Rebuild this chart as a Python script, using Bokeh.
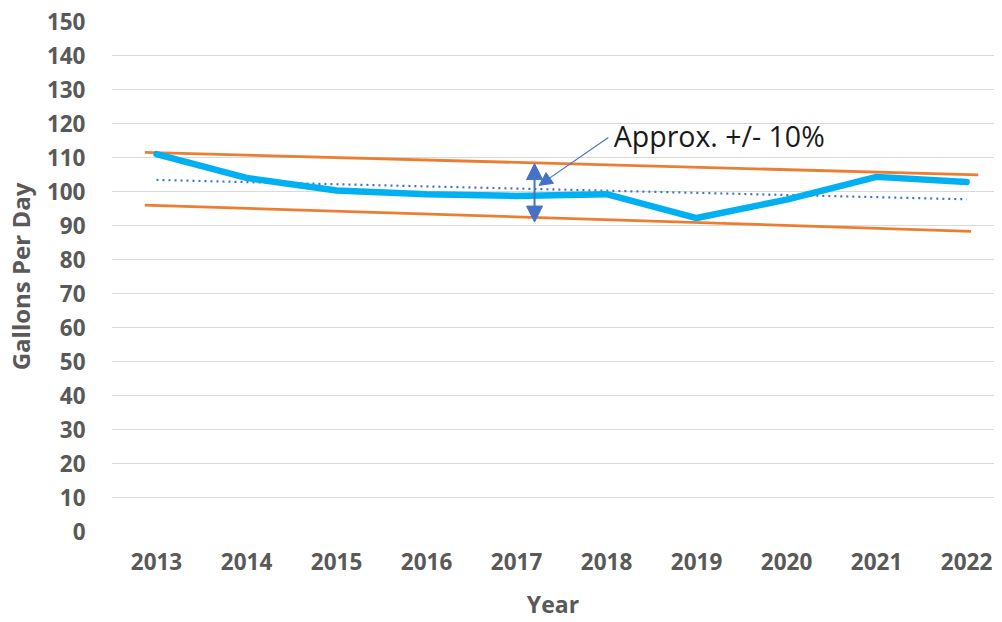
from bokeh.plotting import figure
from bokeh.models import Range1d, FixedTicker, Arrow, NormalHead, Label
from bokeh.embed import file_html
from bokeh.resources import INLINE

years = [2013, 2014, 2015, 2016, 2017, 2018, 2019, 2020, 2021, 2022]
gallons_per_day = [111.0, 104.0, 100.3, 99.2, 98.7, 99.2, 92.2, 97.6, 104.3, 102.8]

band_x = [2012.87, 2022.13]
upper_band = [111.5, 104.9]
lower_band_x = [2012.87, 2022.05]
lower_band = [96.0, 88.3]
trend_x = [2013.0, 2022.0]
trend = [103.4, 97.7]

y_ticks = list(range(0, 151, 10))
arrow_x = 2017.2
arrow_top = 108.2
arrow_bottom = 91.0
label_text = "Approx. +/- 10%"
x_title = "Year"
y_title = "Gallons Per Day"

FONT = "Open Sans"
GREY = "#595959"

p = figure(width=994, height=622, output_backend="svg", toolbar_location=None,
           x_range=Range1d(2012.5, 2022.31), y_range=Range1d(0, 150),
           min_border_left=110, min_border_right=0, min_border_top=21, min_border_bottom=90)
p.outline_line_color = None
p.background_fill_color = "white"
p.border_fill_color = "white"

p.xgrid.grid_line_color = None
p.ygrid.grid_line_color = "#d9d9d9"
p.ygrid.grid_line_width = 1
p.yaxis.ticker = FixedTicker(ticks=y_ticks)
p.xaxis.ticker = FixedTicker(ticks=years)

for ax in (p.xaxis[0], p.yaxis[0]):
    ax.axis_line_color = None
    ax.major_tick_line_color = None
    ax.minor_tick_line_color = None
    ax.major_label_text_font = FONT
    ax.major_label_text_font_style = "bold"
    ax.major_label_text_font_size = "22.5px"
    ax.major_label_text_color = GREY
    ax.axis_label_text_font = FONT
    ax.axis_label_text_font_style = "bold"
    ax.axis_label_text_color = GREY

p.xaxis.axis_label = x_title
p.yaxis.axis_label = y_title
p.xaxis.axis_label_text_font_size = "23px"
p.yaxis.axis_label_text_font_size = "24px"
p.yaxis.major_label_standoff = 20
p.xaxis.major_label_standoff = 15
p.xaxis.axis_label_standoff = 15
p.yaxis.axis_label_standoff = 7

p.line(band_x, upper_band, line_color="#ED7D31", line_width=2.8)
p.line(lower_band_x, lower_band, line_color="#ED7D31", line_width=2.8)
p.line(trend_x, trend, line_color="#4472C4", line_width=2.2, line_dash="2 4")
p.line(years, gallons_per_day, line_color="#00B0F0", line_width=6.5, line_join="round", line_cap="round")

p.add_layout(Arrow(start=NormalHead(size=16, fill_color="#4472C4", line_color="#4472C4"),
                   end=NormalHead(size=16, fill_color="#4472C4", line_color="#4472C4"),
                   x_start=arrow_x, y_start=arrow_bottom, x_end=arrow_x, y_end=arrow_top,
                   line_color="#4472C4", line_width=2))
p.add_layout(Arrow(end=NormalHead(size=13, fill_color="#4472C4", line_color="#4472C4"),
                   x_start=2018.02, y_start=115.9, x_end=2017.25, y_end=101.8,
                   line_color="#4472C4", line_width=1.2))
p.add_layout(Label(x=2018.08, y=116.4, text=label_text, text_font=FONT, text_font_size="28.5px",
                   text_color="#1a1a1a", text_baseline="middle"))

open("out.html", "w").write(file_html(p, INLINE))
